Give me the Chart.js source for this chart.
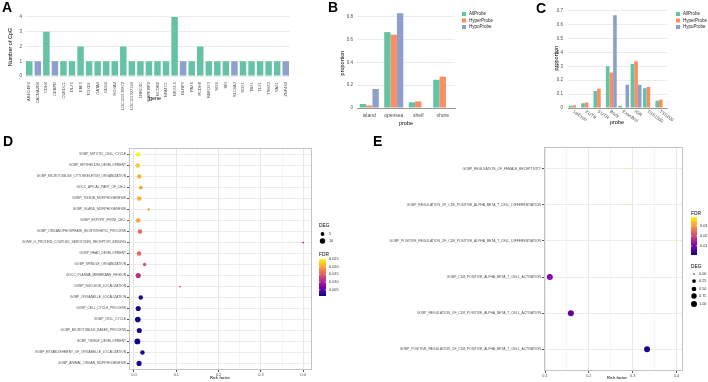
<!DOCTYPE html>
<html><head><meta charset="utf-8">
<script src="https://cdn.jsdelivr.net/npm/chart.js@4.4.1/dist/chart.umd.min.js"></script>
<style>
html,body{margin:0;padding:0;background:#fff;width:708px;height:382px;overflow:hidden}
canvas{position:absolute}
</style></head><body>
<canvas id="cA" width="300" height="128" style="left:0;top:0"></canvas>
<canvas id="cB" width="230" height="132" style="left:300px;top:0"></canvas>
<canvas id="cC" width="178" height="132" style="left:530px;top:0"></canvas>
<canvas id="cD" width="360" height="254" style="left:0;top:128px"></canvas>
<canvas id="cE" width="348" height="254" style="left:360px;top:128px"></canvas>
<script>
// ---------- DATA ----------
const geneLabels = ["ARHGEF4","CACNA2D4","CDH4","CEBPD","CUEDC1","DLX5","EBF3","FOXD1","GATA4","GNG4","HOXA2","LOC100130872","LOC101927164","LRRC4C","MAPK8IP2","NCOR2","NFATC1","NKX2-5","NLRP3","PAX6","PCDH8","RBFOX3","SIX6","SKI","SLC6A3","SOX1","TBX1","TLX1","TSHZ3","VAX1","ZNF462"];
const hyperCpG = [1,0,3,0,1,1,2,1,1,1,1,2,1,1,1,1,1,4,0,1,2,1,1,1,0,1,1,1,1,1,0];
const hypoCpG  = [0,1,0,1,0,0,0,0,0,0,0,0,0,0,0,0,0,0,1,0,0,0,0,0,1,0,0,0,0,0,1];
const cpgTicks = [0,1,2,3,4];

const seriesNames = ["AllProbe","HyperProbe","HypoProbe"];
const islandCats = ["island","opensea","shelf","shore"];
const islandAll   = [0.035,0.667,0.050,0.248];
const islandHyper = [0.022,0.645,0.058,0.275];
const islandHypo  = [0.167,0.833,0,0];
const islandTicks = [0,0.2,0.4,0.6,0.8];

const regionCats = ["1stExon","3'UTR","5'UTR","Body","ExonBnd","IGR","TSS1500","TSS200"];
const regionAll   = [0.017,0.035,0.123,0.300,0.017,0.316,0.142,0.052];
const regionHyper = [0.020,0.040,0.139,0.255,0,0.337,0.151,0.059];
const regionHypo  = [0,0,0,0.667,0.167,0.167,0,0];
const regionTicks = [0,0.1,0.2,0.3,0.4,0.5,0.6,0.7];

const dTerms = ["GOBP_MITOTIC_CELL_CYCLE","GOBP_EPITHELIUM_DEVELOPMENT","GOBP_MICROTUBULE_CYTOSKELETON_ORGANIZATION","GOCC_APICAL_PART_OF_CELL","GOBP_TISSUE_MORPHOGENESIS","GOBP_GLAND_MORPHOGENESIS","GOBP_EXPORT_FROM_CELL","GOBP_ORGANOPHOSPHATE_BIOSYNTHETIC_PROCESS","GOMF_G_PROTEIN_COUPLED_SEROTONIN_RECEPTOR_BINDING","GOBP_HEAD_DEVELOPMENT","GOBP_SPINDLE_ORGANIZATION","GOCC_PLASMA_MEMBRANE_REGION","GOBP_NUCLEUS_LOCALIZATION","GOBP_ORGANELLE_LOCALIZATION","GOBP_CELL_CYCLE_PROCESS","GOBP_CELL_CYCLE","GOBP_MICROTUBULE_BASED_PROCESS","GOBP_TISSUE_DEVELOPMENT","GOBP_ESTABLISHMENT_OF_ORGANELLE_LOCALIZATION","GOBP_ANIMAL_ORGAN_MORPHOGENESIS"];
const dRich = [0.010,0.009,0.0125,0.016,0.0125,0.035,0.010,0.014,0.400,0.012,0.025,0.010,0.109,0.016,0.010,0.009,0.0125,0.008,0.020,0.012];
const dFDR  = [0.025,0.0226,0.021,0.0197,0.0207,0.0197,0.020,0.0161,0.009,0.0154,0.0142,0.0111,0.013,0.0022,0.0017,0.001,0.0015,0.001,0.0022,0.0015];
const dDEG  = [7,7,7,5,7,2,7,7,1,7,4,9,1,7,9,11,9,12,7,9];
const dRichTicks = [0,0.05,0.1,0.15,0.2,0.25,0.3,0.35,0.4];
const dFDRTicks = [0.025,0.020,0.015,0.010,0.005];
const dDEGLegend = [5,10];

const eTerms = ["GOBP_REGULATION_OF_FEMALE_RECEPTIVITY","GOBP_REGULATION_OF_CD8_POSITIVE_ALPHA_BETA_T_CELL_DIFFERENTIATION","GOBP_POSITIVE_REGULATION_OF_CD8_POSITIVE_ALPHA_BETA_T_CELL_DIFFERENTIATION","GOBP_CD8_POSITIVE_ALPHA_BETA_T_CELL_ACTIVATION","GOBP_REGULATION_OF_CD8_POSITIVE_ALPHA_BETA_T_CELL_ACTIVATION","GOBP_POSITIVE_REGULATION_OF_CD8_POSITIVE_ALPHA_BETA_T_CELL_ACTIVATION"];
const eRich = [0.287,0.287,0.400,0.111,0.159,0.333];
const eFDR  = [0.039,0.039,0.039,0.0113,0.0078,0.0018];
const eDEG  = [0,0,0,1,1,1];
const eRichTicks = [0.1,0.15,0.2,0.25,0.3,0.35,0.4];
const eFDRTicks = [0.03,0.02,0.01];
const eDEGLegend = [0,0.25,0.5,0.75,1];

// ---------- HELPERS ----------
const FONT = "'Liberation Sans', Arial, Helvetica, sans-serif";
Chart.defaults.font.family = FONT;
const GREEN = "#66C2A5", ORANGE = "#FC8D62", BLUE = "#8DA0CB";
const TICKC = "#4D4D4D";
const PLASMA = [[13,8,135],[76,2,161],[126,3,168],[169,35,149],[204,71,120],[229,107,93],[248,148,65],[253,195,40],[240,249,33]];
function plasma(t){
  t = Math.max(0, Math.min(1, t));
  const p = t*(PLASMA.length-1), i = Math.min(PLASMA.length-2, Math.floor(p)), f = p-i;
  const a = PLASMA[i], b = PLASMA[i+1];
  return `rgb(${Math.round(a[0]+(b[0]-a[0])*f)},${Math.round(a[1]+(b[1]-a[1])*f)},${Math.round(a[2]+(b[2]-a[2])*f)})`;
}
function txt(c,s,x,y,o={}){
  c.save(); c.font=(o.bold?'bold ':'')+(o.size||5)+'px '+FONT; c.fillStyle=o.color||'#000';
  c.textAlign=o.align||'left'; c.textBaseline=o.base||'middle'; c.translate(x,y); if(o.rot) c.rotate(o.rot);
  c.fillText(s,0,0); c.restore();
}
function extras(fn){return {id:'extras', afterDraw(chart){const c=chart.ctx; c.save(); fn(c,chart); c.restore();}};}
function fixW(w){return s=>{s.width=w;};}
function fixH(h){return s=>{s.height=h;};}
function setTicks(arr){return s=>{s.ticks=arr.map(v=>({value:v}));};}
const base = {responsive:false, animation:false, devicePixelRatio:1,
  plugins:{legend:{display:false}, tooltip:{enabled:false}}};
function legendBoxes(c,x,y0,dy,cols,names){
  names.forEach((n,i)=>{c.fillStyle=cols[i]; c.fillRect(x,y0+i*dy-2,4,4); txt(c,n,x+7,y0+i*dy,{size:4.5,color:'#222'});});
}

// ---------- PANEL A ----------
new Chart(document.getElementById('cA'), {
  type:'bar',
  data:{labels:geneLabels, datasets:[
    {data:hyperCpG, backgroundColor:GREEN, barPercentage:0.76, categoryPercentage:1},
    {data:hypoCpG, backgroundColor:BLUE, barPercentage:0.76, categoryPercentage:1}]},
  options:{...base, layout:{padding:{left:0,right:10,top:14,bottom:0}},
    scales:{
      x:{stacked:true, grid:{display:false, drawTicks:false}, border:{display:false}, afterFit:fixH(49),
         ticks:{autoSkip:false, maxRotation:90, minRotation:90, padding:3, font:{size:4}, color:TICKC}},
      y:{stacked:true, min:-0.2, max:4.2, afterBuildTicks:setTicks(cpgTicks), afterFit:fixW(25),
         grid:{color:'#EBEBEB', drawTicks:false}, border:{display:false},
         ticks:{padding:3, font:{size:4.5}, color:TICKC}}
    }},
  plugins:[extras((c,ch)=>{
    txt(c,'A',2,12,{size:14,bold:true,base:'alphabetic'});
    txt(c,'Number of CpG',10,47,{size:5.5,align:'center',rot:-Math.PI/2});
    txt(c,'gene',155,98,{size:5.5,align:'center'});
  })]
});

// ---------- PANEL B ----------
new Chart(document.getElementById('cB'), {
  type:'bar',
  data:{labels:islandCats, datasets:[
    {data:islandAll, backgroundColor:GREEN},
    {data:islandHyper, backgroundColor:ORANGE},
    {data:islandHypo, backgroundColor:BLUE}]},
  options:{...base, layout:{padding:{left:0,right:75,top:9,bottom:0}},
    datasets:{bar:{barPercentage:1, categoryPercentage:0.78}},
    scales:{
      x:{grid:{display:false, drawTicks:false}, border:{display:true,color:'#999',width:1}, afterFit:fixH(24),
         ticks:{autoSkip:false, maxRotation:0, padding:5, font:{size:5}, color:TICKC}},
      y:{min:0, max:0.87, afterBuildTicks:setTicks(islandTicks), afterFit:fixW(57),
         grid:{color:'#EBEBEB', drawTicks:false}, border:{display:false},
         ticks:{padding:4, font:{size:4.5}, color:TICKC, callback:v=>v===0?'0':v.toFixed(1)}}
    }},
  plugins:[extras((c,ch)=>{
    txt(c,'B',28,12,{size:14,bold:true,base:'alphabetic'});
    txt(c,'proportion',42,63,{size:5.5,align:'center',rot:-Math.PI/2});
    txt(c,'probe',106,123,{size:5.5,align:'center'});
    legendBoxes(c,162,14,6.5,[GREEN,ORANGE,BLUE],seriesNames);
  })]
});

// ---------- PANEL C ----------
new Chart(document.getElementById('cC'), {
  type:'bar',
  data:{labels:regionCats, datasets:[
    {data:regionAll, backgroundColor:GREEN},
    {data:regionHyper, backgroundColor:ORANGE},
    {data:regionHypo, backgroundColor:BLUE}]},
  options:{...base, layout:{padding:{left:0,right:41,top:7,bottom:0}},
    datasets:{bar:{barPercentage:1, categoryPercentage:0.88}},
    scales:{
      x:{grid:{display:false, drawTicks:false}, border:{display:true,color:'#999',width:1}, afterFit:fixH(24),
         ticks:{display:false}},
      y:{min:0, max:0.7214, afterBuildTicks:setTicks(regionTicks), afterFit:fixW(38),
         grid:{color:'#EBEBEB', drawTicks:false}, border:{display:false},
         ticks:{padding:5, font:{size:4.5}, color:TICKC, callback:v=>v===0?'0':v.toFixed(1)}}
    }},
  plugins:[extras((c,ch)=>{
    const xs = ch.scales.x;
    regionCats.forEach((l,i)=>{ txt(c,l,xs.getPixelForTick(i)-1,111,{size:4.5,color:TICKC,rot:35*Math.PI/180}); });
    txt(c,'C',6,13,{size:14,bold:true,base:'alphabetic'});
    txt(c,'proportion',26,58,{size:5.5,align:'center',rot:-Math.PI/2});
    txt(c,'probe',87,122,{size:5.5,align:'center'});
    legendBoxes(c,146,14,6.5,[GREEN,ORANGE,BLUE],seriesNames);
  })]
});

// ---------- DOT PLOT HELPERS ----------
function frame(c,ch){const a=ch.chartArea; c.strokeStyle='#C4C4C4'; c.lineWidth=1; c.strokeRect(Math.round(a.left)+0.5,Math.round(a.top)+0.5,Math.round(a.right-a.left)-1,Math.round(a.bottom-a.top)-1);}
function colorbar(c,x,y0,y1,w,vmin,vmax,ticks,fmt){
  const g=c.createLinearGradient(0,y0,0,y1);
  for(let k=0;k<=8;k++){g.addColorStop(k/8, plasma(1-k/8));}
  c.fillStyle=g; c.fillRect(x,y0,w,y1-y0);
  ticks.forEach(v=>{const y=y0+(vmax-v)/(vmax-vmin)*(y1-y0);
    c.strokeStyle='#fff'; c.lineWidth=0.6; c.beginPath(); c.moveTo(x,y); c.lineTo(x+1.3,y); c.moveTo(x+w-1.3,y); c.lineTo(x+w,y); c.stroke();
    txt(c,fmt(v),x+w+3,y,{size:3.8,color:'#333'});});
}

// ---------- PANEL D ----------
const dMin=0.001, dMax=0.025;
const rD = v=>0.85*Math.sqrt(v);
new Chart(document.getElementById('cD'), {
  type:'scatter',
  data:{datasets:[{data:dRich.map((x,i)=>({x:x,y:i})),
    pointRadius:dDEG.map(rD), pointBackgroundColor:dFDR.map(v=>plasma((v-dMin)/(dMax-dMin))), pointBorderWidth:0}]},
  options:{...base, layout:{padding:{left:0,right:48,top:20,bottom:0}},
    scales:{
      x:{type:'linear', min:-0.0118, max:0.4208, afterBuildTicks:setTicks(dRichTicks), afterFit:fixH(12),
         grid:{color:ctx=>(Math.round(ctx.tick.value*100)%10===0)?'#E8E8E8':'#F4F4F4', tickLength:2,
               tickColor:ctx=>(Math.round(ctx.tick.value*100)%10===0)?'#555':'rgba(0,0,0,0)'}, border:{display:false},
         ticks:{autoSkip:false, maxRotation:0, padding:1, font:{size:3.8}, color:TICKC,
                callback:v=>(Math.round(v*100)%10===0)?v.toFixed(1):''}},
      y:{type:'linear', reverse:true, min:-0.6, max:19.6, afterBuildTicks:setTicks(dTerms.map((t,i)=>i)), afterFit:fixW(129),
         grid:{color:'#EBEBEB', tickLength:2, tickColor:'#555'}, border:{display:false},
         ticks:{autoSkip:false, padding:1, font:{size:3.25}, color:TICKC, callback:v=>dTerms[v]}}
    }},
  plugins:[extras((c,ch)=>{
    frame(c,ch);
    txt(c,'D',3,18,{size:14,bold:true,base:'alphabetic'});
    txt(c,'Rich factor',220,250,{size:4.2,align:'center'});
    txt(c,'DEG',319,98,{size:4.8});
    dDEGLegend.forEach((v,i)=>{const y=106+i*7; c.fillStyle='#000'; c.beginPath(); c.arc(322.5,y,rD(v),0,Math.PI*2); c.fill(); txt(c,String(v),329,y,{size:3.8,color:'#333'});});
    txt(c,'FDR',319,127,{size:4.8});
    colorbar(c,319,131,168,7,dMin,dMax,dFDRTicks,v=>v.toFixed(3));
  })]
});

// ---------- PANEL E ----------
const eMin=0.001, eMax=0.039;
const rE = v=>0.75+2.25*Math.sqrt(v);
new Chart(document.getElementById('cE'), {
  type:'scatter',
  data:{datasets:[{data:eRich.map((x,i)=>({x:x,y:i})),
    pointRadius:eDEG.map(rE), pointBackgroundColor:eFDR.map(v=>plasma((v-eMin)/(eMax-eMin))), pointBorderWidth:0}]},
  options:{...base, layout:{padding:{left:0,right:25,top:19,bottom:0}},
    scales:{
      x:{type:'linear', min:0.0977, max:0.415, afterBuildTicks:setTicks(eRichTicks), afterFit:fixH(11),
         grid:{color:ctx=>(Math.round(ctx.tick.value*100)%10===0)?'#E8E8E8':'#F4F4F4', tickLength:2,
               tickColor:ctx=>(Math.round(ctx.tick.value*100)%10===0)?'#555':'rgba(0,0,0,0)'}, border:{display:false},
         ticks:{autoSkip:false, maxRotation:0, padding:1, font:{size:3.8}, color:TICKC,
                callback:v=>(Math.round(v*100)%10===0)?v.toFixed(1):''}},
      y:{type:'linear', reverse:true, min:-0.6, max:5.6, afterBuildTicks:setTicks(eTerms.map((t,i)=>i)), afterFit:fixW(184),
         grid:{color:'#EBEBEB', tickLength:2, tickColor:'#555'}, border:{display:false},
         ticks:{autoSkip:false, padding:1, font:{size:3.35}, color:TICKC, callback:v=>eTerms[v]}}
    }},
  plugins:[extras((c,ch)=>{
    frame(c,ch);
    txt(c,'E',13,18,{size:14,bold:true,base:'alphabetic'});
    txt(c,'Rich factor',257,250,{size:4.2,align:'center'});
    txt(c,'FDR',331,86,{size:4.8});
    colorbar(c,331,89,127,6,eMin,eMax,eFDRTicks,v=>v.toFixed(2));
    txt(c,'DEG',331,139,{size:4.8});
    const ys=[146,153,161,168,176];
    eDEGLegend.forEach((v,i)=>{c.fillStyle='#000'; c.beginPath(); c.arc(334,ys[i],rE(v),0,Math.PI*2); c.fill(); txt(c,v.toFixed(2),339,ys[i],{size:3.8,color:'#333'});});
  })]
});
</script>
</body></html>
